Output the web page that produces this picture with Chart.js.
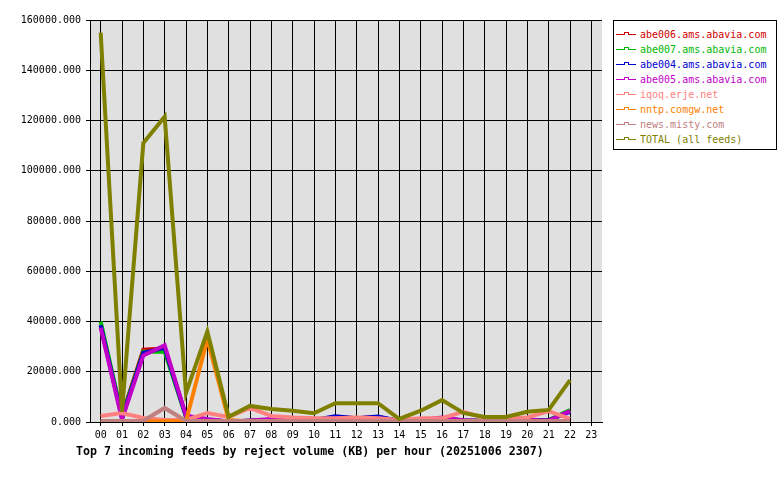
<!DOCTYPE html>
<html>
<head>
<meta charset="utf-8">
<script src="https://cdn.jsdelivr.net/npm/chart.js@4/dist/chart.umd.min.js"></script>
<style>
  body { margin: 0; background: #fff; }
  #wrap { position: relative; width: 780px; height: 480px; }
  #legend {
    position: absolute; left: 613px; top: 20px; width: 162px; height: 128px;
    border: 1px solid #000; background: #fff;
    font: 10px "DejaVu Sans Mono", monospace;
  }
  .item { position: absolute; left: 0; height: 14px; line-height: 14px; white-space: nowrap; }
  .swatch { position: absolute; left: 2px; top: 6px; width: 20px; height: 1px; }
  .mark { position: absolute; left: 8px; top: -2px; width: 3px; height: 2px; border: 1px solid; border-bottom: none; background: #fff; }
  .label { position: absolute; left: 26px; top: 0; }
  #title {
    position: absolute; left: 76px; top: 444px;
    font: bold 11.6px "DejaVu Sans Mono", monospace; color: #000; white-space: nowrap;
  }
</style>
</head>
<body>
<div id="wrap">
  <canvas id="feedChart" width="780" height="480"></canvas>
  <div id="legend"></div>
  <div id="title">Top 7 incoming feeds by reject volume (KB) per hour (20251006 2307)</div>
</div>
<script>
// hours on the x axis
const hours = ["00","01","02","03","04","05","06","07","08","09","10","11",
               "12","13","14","15","16","17","18","19","20","21","22","23"];

const feedNames = ["abe006.ams.abavia.com", "abe007.ams.abavia.com", "abe004.ams.abavia.com",
                   "abe005.ams.abavia.com", "iqoq.erje.net", "nntp.comgw.net",
                   "news.misty.com", "TOTAL (all feeds)"];
const feedColors = ["#d00000", "#00b800", "#0000d0", "#c000c8", "#ff8080", "#ff8000", "#c08080", "#808000"];

// reject volume (KB) per hour
const abe006 = [38500, 2500, 28800, 29200, 2400, 900, 200, 500, 800, 600, 800, 2000, 1500, 2000, 400, 800, 1500, 600, 400, 400, 700, 700, 4500, null];
const abe007 = [40000, 2200, 28000, 28000, 2000, 800, 200, 500, 800, 600, 800, 1800, 1300, 1800, 400, 800, 1300, 600, 500, 500, 700, 800, 4800, null];
const abe004 = [38500, 1500, 27500, 29500, 2200, 800, 200, 500, 800, 600, 800, 2300, 1500, 2200, 400, 800, 1500, 600, 400, 400, 700, 700, 4000, null];
const abe005 = [37500, 1000, 26500, 30500, 2500, 1200, 200, 600, 1200, 600, 800, 1500, 1500, 1500, 400, 800, 1800, 700, 300, 300, 800, 600, 4300, null];
const iqoq   = [2400, 3600, 1600, 800, 800, 3600, 2000, 5600, 2400, 1800, 1500, 1500, 1800, 1500, 800, 1500, 1500, 4000, 1500, 1500, 1800, 4300, 1200, null];
const nntp   = [0, 0, 300, 300, 300, 33000, 800, 200, 200, 200, 200, 200, 200, 200, 200, 200, 200, 200, 200, 200, 200, 200, 200, null];
const misty  = [400, 400, 500, 5600, 400, 400, 400, 400, 400, 400, 400, 400, 400, 400, 400, 400, 400, 400, 400, 400, 400, 400, 400, null];
const total  = [155000, 4000, 111000, 121500, 11500, 36000, 2100, 6400, 5200, 4500, 3500, 7500, 7500, 7500, 1200, 4500, 8700, 3600, 2000, 2000, 4100, 4800, 16700, null];

const feedValues = [abe006, abe007, abe004, abe005, iqoq, nntp, misty, total];

// y axis ticks
const yMin = 0;
const yMax = 160000;
const yStep = 20000;

const plotBackground = {
  id: "plotBackground",
  beforeDraw(chart) {
    const { ctx, chartArea } = chart;
    ctx.save();
    ctx.fillStyle = "#e0e0e0";
    ctx.fillRect(chartArea.left, chartArea.top, chartArea.right - chartArea.left, chartArea.bottom - chartArea.top);
    ctx.restore();
  }
};

const datasets = feedNames.map((name, i) => ({
  label: name,
  data: feedValues[i],
  borderColor: feedColors[i],
  backgroundColor: feedColors[i],
  borderWidth: 4,
  pointRadius: 0,
  tension: 0,
  fill: false,
  order: feedNames.length - i // later feeds drawn on top, TOTAL last
}));

const monoFont = { family: "'DejaVu Sans Mono', monospace", size: 10 };

new Chart(document.getElementById("feedChart"), {
  type: "line",
  data: { labels: hours, datasets },
  options: {
    responsive: false,
    animation: false,
    devicePixelRatio: 1,
    layout: { padding: { top: 20, right: 178, left: 0, bottom: 0 } },
    plugins: { legend: { display: false }, tooltip: { enabled: false } },
    scales: {
      x: {
        offset: true,
        grid: { offset: false, color: "#000", lineWidth: 1, tickLength: 4 },
        border: { color: "#000", width: 1 },
        ticks: { color: "#000", font: monoFont, maxRotation: 0, autoSkip: false, padding: 3 },
        afterFit(scale) { scale.height = 58; }
      },
      y: {
        min: yMin,
        max: yMax,
        grid: { color: "#000", lineWidth: 1, tickLength: 4 },
        border: { color: "#000", width: 1 },
        ticks: {
          stepSize: yStep,
          color: "#000",
          font: monoFont,
          padding: 5,
          callback: v => v.toFixed(3)
        },
        afterFit(scale) { scale.width = 90; }
      }
    }
  },
  plugins: [plotBackground]
});

// legend box on the right
const legend = document.getElementById("legend");
legend.innerHTML = feedNames
  .map((name, i) =>
    `<div class="item" style="top:${7 + i * 15}px">` +
    `<div class="swatch" style="background:${feedColors[i]}"><div class="mark" style="border-color:${feedColors[i]}"></div></div>` +
    `<span class="label" style="color:${feedColors[i]}">${name}</span></div>`
  )
  .join("");
</script>
</body>
</html>
